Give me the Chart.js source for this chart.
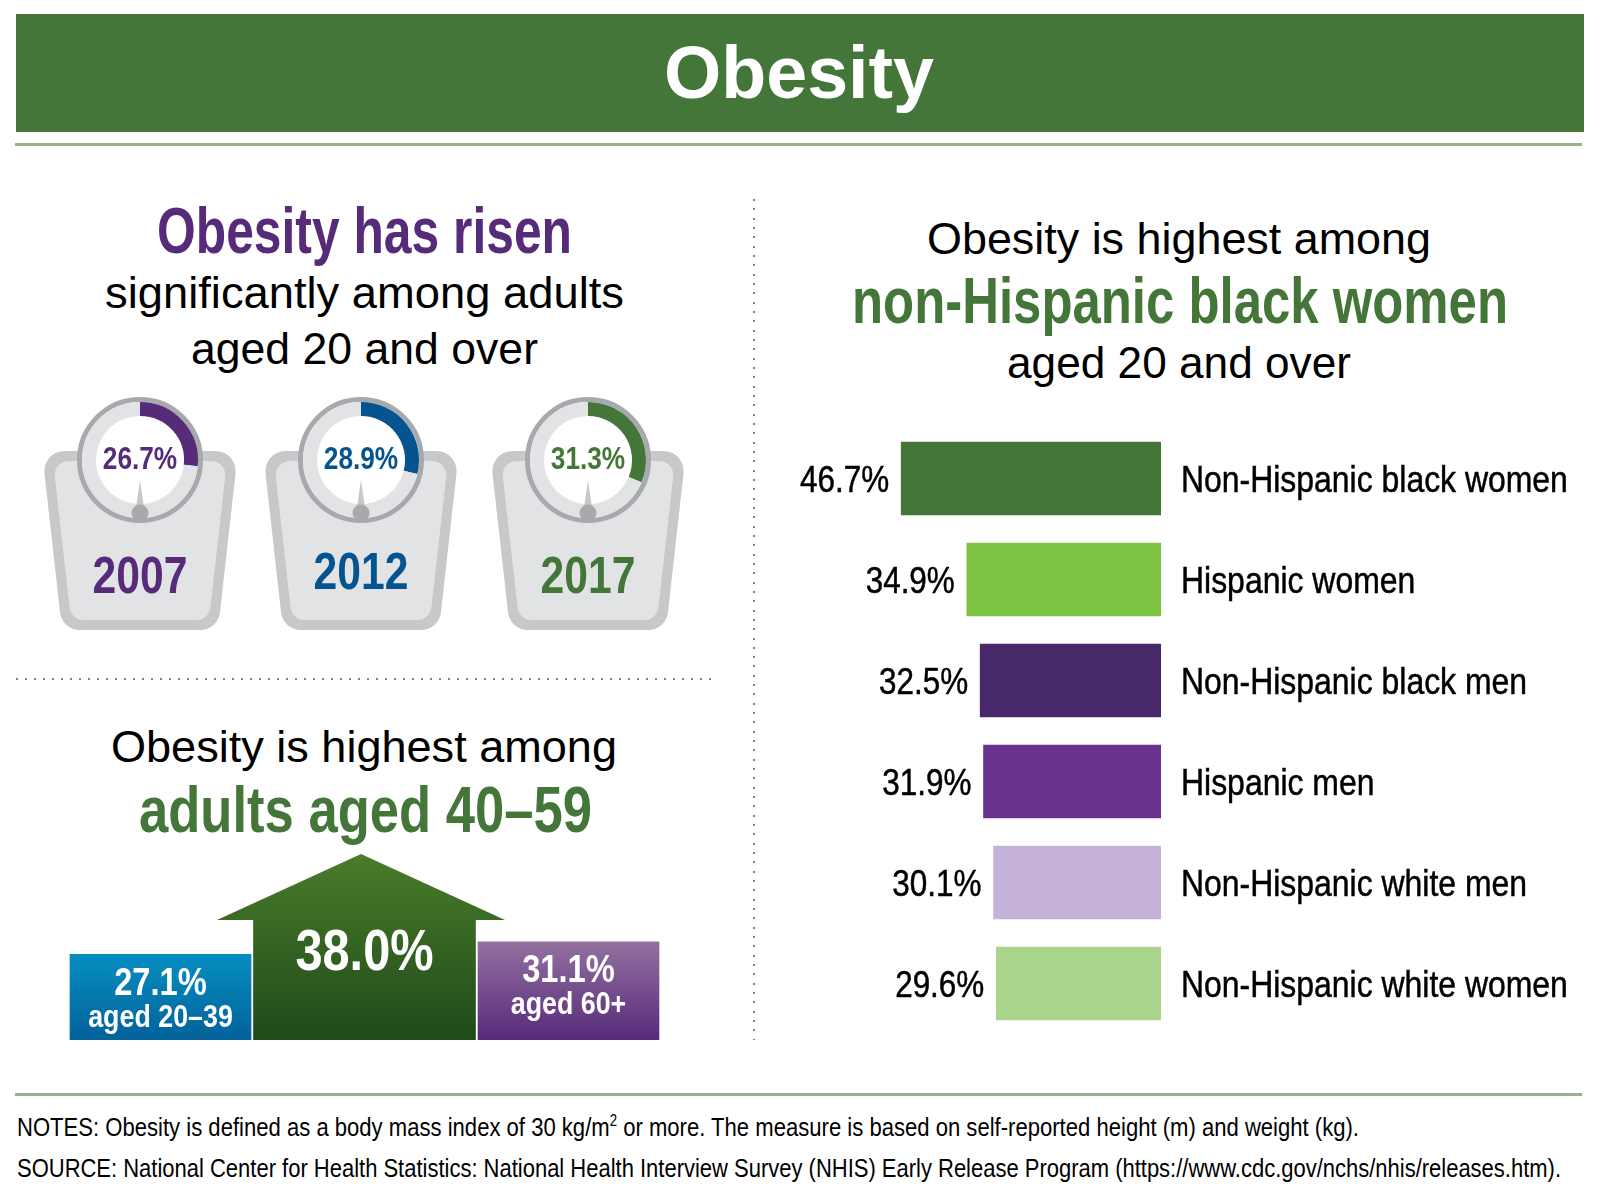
<!DOCTYPE html>
<html>
<head>
<meta charset="utf-8">
<title>Obesity</title>
<script src="https://cdn.jsdelivr.net/npm/chart.js@4"></script>
<style>
    html, body { margin: 0; background: #fff; }
    #page { position: relative; width: 1600px; height: 1200px; overflow: hidden; }
    canvas { position: absolute; }
    .box { position: absolute; }
    .t {
        position: absolute; white-space: nowrap; line-height: 0; color: #000;
        font-family: "Liberation Sans", Arial, sans-serif; transform-origin: 0 0;
    }
    .b { font-weight: bold; }
    sup { font-size: 60%; line-height: 0; }
</style>
</head>
<body>
<div id="page">
    <div class="box" style="left:16px;top:14px;width:1568px;height:118px;background:#44763a"></div>
    <div class="box" style="left:15px;top:143px;width:1567px;height:3px;background:#9bb08d"></div>
    <div class="box" style="left:15px;top:1093px;width:1567px;height:3px;background:#9bb08d"></div>
    <div class="box" style="left:753px;top:199px;width:2px;height:841px;background:repeating-linear-gradient(to bottom,#808285 0 2px,transparent 2px 9.33px)"></div>
    <div class="box" style="left:16px;top:678px;width:700px;height:2px;background:repeating-linear-gradient(to right,#808285 0 2px,transparent 2px 9px)"></div>

    <div class="t b" data-x="664" data-w="270" data-y="98" data-s="75" style="color:#fff">Obesity</div>

    <div class="t b" data-x="156.5" data-w="415" data-y="253" data-s="64" style="color:#562c7a">Obesity has risen</div>
    <div class="t" data-x="104.5" data-w="519" data-y="308" data-s="44">significantly among adults</div>
    <div class="t" data-x="191" data-w="347" data-y="364" data-s="44">aged 20 and over</div>

    <div class="t" data-x="111" data-w="506" data-y="762" data-s="44">Obesity is highest among</div>
    <div class="t b" data-x="139" data-w="453" data-y="832" data-s="64" style="color:#44763a">adults aged 40–59</div>

    <div class="t" data-x="927" data-w="504" data-y="254" data-s="44">Obesity is highest among</div>
    <div class="t b" data-x="852" data-w="656" data-y="323" data-s="64" style="color:#44763a">non-Hispanic black women</div>
    <div class="t" data-x="1007" data-w="344" data-y="378" data-s="44">aged 20 and over</div>

    <div class="t" data-x="17" data-w="1342" data-y="1130" data-s="26">NOTES: Obesity is defined as a body mass index of 30 kg/m<sup>2</sup> or more. The measure is based on self-reported height (m) and weight (kg).</div>
    <div class="t" data-x="17" data-w="1544" data-y="1177" data-s="26">SOURCE: National Center for Health Statistics: National Health Interview Survey (NHIS) Early Release Program (https://www.cdc.gov/nchs/nhis/releases.htm).</div>

    <canvas id="gauge0" width="200" height="250" style="left:40px;top:390px"></canvas>
    <canvas id="gauge1" width="200" height="250" style="left:261px;top:390px"></canvas>
    <canvas id="gauge2" width="200" height="250" style="left:488px;top:390px"></canvas>
    <canvas id="ageChart" width="650" height="200" style="left:40px;top:840px"></canvas>
    <canvas id="groupChart" width="820" height="606" style="left:780px;top:428px"></canvas>
</div>

<script>
// Share of adults with obesity by survey year
const gaugeYears = ['2007', '2012', '2017'];
const gaugeValues = [26.7, 28.9, 31.3];
const gaugeColors = ['#562c7a', '#05548f', '#44763a'];

// By age group
const ageLabels = ['aged 20–39', '', 'aged 60+'];
const ageValues = [27.1, 38.0, 31.1];

// By sex and race/ethnicity
const groupLabels = [
    'Non-Hispanic black women',
    'Hispanic women',
    'Non-Hispanic black men',
    'Hispanic men',
    'Non-Hispanic white men',
    'Non-Hispanic white women'
];
const groupValues = [46.7, 34.9, 32.5, 31.9, 30.1, 29.6];
const groupColors = ['#44763a', '#7dc242', '#47296a', '#6a348e', '#c5b2d8', '#a9d48c'];

const SANS = '"Liberation Sans", Arial, sans-serif';
const NARROW = 0.82; // no condensed face installed, so text gets squeezed

Chart.defaults.animation = false;
Chart.defaults.responsive = false;
Chart.defaults.plugins.legend.display = false;
Chart.defaults.plugins.tooltip.enabled = false;

// Place the page texts on their baselines and squeeze them to the measured width
document.querySelectorAll('.t').forEach(el => {
    const size = +el.dataset.s;
    el.style.fontSize = size + 'px';
    el.style.left = el.dataset.x + 'px';
    el.style.top = (+el.dataset.y - 0.3465 * size) + 'px';
    const w = el.getBoundingClientRect().width;
    el.style.transform = `scaleX(${+el.dataset.w / w})`;
});

function narrowText(ctx, text, x, y, align, sx, heavy) {
    ctx.save();
    ctx.translate(x, y);
    ctx.scale(sx || NARROW, 1);
    ctx.textAlign = align;
    ctx.fillText(text, 0, 0);
    if (heavy) {
        // the original labels are a medium weight
        ctx.strokeStyle = ctx.fillStyle;
        ctx.lineWidth = heavy;
        ctx.strokeText(text, 0, 0);
    }
    ctx.restore();
}

function roundedPoly(ctx, pts, r) {
    ctx.beginPath();
    const last = pts[pts.length - 1];
    ctx.moveTo((last[0] + pts[0][0]) / 2, (last[1] + pts[0][1]) / 2);
    pts.forEach((p, i) => {
        const next = pts[(i + 1) % pts.length];
        ctx.arcTo(p[0], p[1], next[0], next[1], r);
    });
    ctx.closePath();
}

// Bathroom scale drawn around each doughnut
const scaleBody = {
    id: 'scaleBody',
    beforeDatasetsDraw(chart) {
        const ctx = chart.ctx;
        const { x, y } = chart.getDatasetMeta(0).data[0];
        ctx.save();
        ctx.fillStyle = '#c7c8ca';
        roundedPoly(ctx, [[x - 98, y - 9], [x + 98, y - 9], [x + 78, y + 170], [x - 78, y + 170]], 20);
        ctx.fill();
        ctx.fillStyle = '#e1e3e5';
        roundedPoly(ctx, [[x - 87, y + 1], [x + 87, y + 1], [x + 69, y + 160], [x - 69, y + 160]], 14);
        ctx.fill();
        ctx.fillStyle = '#fff';
        ctx.strokeStyle = '#a7a9ac';
        ctx.lineWidth = 5;
        ctx.beginPath();
        ctx.arc(x, y, 60.5, 0, Math.PI * 2);
        ctx.fill();
        ctx.stroke();
        ctx.restore();
    },
    afterDatasetsDraw(chart, args, opts) {
        const ctx = chart.ctx;
        const { x, y } = chart.getDatasetMeta(0).data[0];
        ctx.save();
        ctx.fillStyle = '#c7c8ca';
        ctx.beginPath();
        ctx.moveTo(x, y + 20);
        ctx.lineTo(x + 4, y + 48);
        ctx.lineTo(x - 4, y + 48);
        ctx.closePath();
        ctx.fill();
        ctx.fillStyle = '#a7a9ac';
        ctx.beginPath();
        ctx.arc(x, y + 53, 8.5, 0, Math.PI * 2);
        ctx.fill();
        ctx.fillStyle = opts.color;
        ctx.font = 'bold 32px ' + SANS;
        narrowText(ctx, opts.value.toFixed(1) + '%', x, y + 9, 'center');
        ctx.font = 'bold 52px ' + SANS;
        narrowText(ctx, opts.year, x, y + opts.yearOffset, 'center');
        ctx.restore();
    }
};

const yearOffsets = [133, 129, 133];

gaugeYears.forEach((year, i) => {
    new Chart(document.getElementById('gauge' + i), {
        type: 'doughnut',
        data: {
            labels: [year, ''],
            datasets: [{
                data: [gaugeValues[i], 100 - gaugeValues[i]],
                backgroundColor: [gaugeColors[i], '#e1e3e5'],
                borderWidth: 0
            }]
        },
        options: {
            radius: 58,
            cutout: '75.9%',
            layout: { padding: { bottom: 110 } },
            plugins: {
                scaleBody: { color: gaugeColors[i], value: gaugeValues[i], year: year, yearOffset: yearOffsets[i] }
            }
        },
        plugins: [scaleBody]
    });
});

// Vertical gradient helper, d0/d1 are pixels above the axis baseline
function upGradient(chart, d0, d1, c0, c1) {
    const base = chart.scales.y.getPixelForValue(0);
    if (!isFinite(base)) return c1;
    const g = chart.ctx.createLinearGradient(0, base - d0, 0, base - d1);
    g.addColorStop(0, c0);
    g.addColorStop(1, c1);
    return g;
}

// Roof on the tallest bar plus the labels inside the bars
const ageDecor = {
    id: 'ageDecor',
    afterDatasetsDraw(chart) {
        const ctx = chart.ctx;
        ctx.save();
        const top = chart.getDatasetMeta(1).data[1];
        ctx.fillStyle = upGradient(chart, 187, 0, '#4a7c2a', '#1f4a1a');
        ctx.beginPath();
        ctx.moveTo(top.x - 147.5, top.y);
        ctx.lineTo(top.x - 3.5, top.y - 66);
        ctx.lineTo(top.x + 140.5, top.y);
        ctx.closePath();
        ctx.fill();

        ctx.fillStyle = '#fff';
        ageValues.forEach((v, i) => {
            const bar = chart.getDatasetMeta(i).data[i];
            if (ageLabels[i]) {
                ctx.font = 'bold 38px ' + SANS;
                narrowText(ctx, v.toFixed(1) + '%', bar.x, bar.y + 40.5, 'center', 0.86);
                ctx.font = 'bold 31px ' + SANS;
                narrowText(ctx, ageLabels[i], bar.x, bar.y + 72.5, 'center', 0.865);
            } else {
                ctx.font = 'bold 58px ' + SANS;
                narrowText(ctx, v.toFixed(1) + '%', bar.x, bar.y + 50, 'center', 0.84);
            }
        });
        ctx.restore();
    }
};

function oneBar(i, thickness, d0, c0, c1) {
    return {
        data: ageValues.map((v, j) => (j === i ? v : null)),
        barThickness: thickness,
        grouped: false,
        borderWidth: 0,
        backgroundColor: c => upGradient(c.chart, d0, 0, c0, c1)
    };
}

new Chart(document.getElementById('ageChart'), {
    type: 'bar',
    data: {
        labels: ageLabels,
        datasets: [
            oneBar(0, 181, 86, '#068ec1', '#03629a'),
            oneBar(1, 222, 187, '#4a7c2a', '#1f4a1a'),
            oneBar(2, 181, 98, '#93709f', '#572a7b')
        ]
    },
    options: {
        layout: { padding: { left: 18.5, right: 19.5 } },
        scales: {
            x: { display: false },
            y: { display: false, min: 0, max: 63.3 }
        }
    },
    plugins: [ageDecor]
});

// Percentages at the bar ends and category names right of the axis
const barLabels = {
    id: 'barLabels',
    afterDatasetsDraw(chart) {
        const ctx = chart.ctx;
        const y = chart.scales.y;
        ctx.save();
        ctx.font = '37px ' + SANS;
        ctx.fillStyle = '#000';
        ctx.textBaseline = 'alphabetic';
        chart.getDatasetMeta(0).data.forEach((bar, i) => {
            narrowText(ctx, groupValues[i].toFixed(1) + '%', bar.x - 12, bar.y + 13, 'right', 0.85, 0.5);
            narrowText(ctx, groupLabels[i], chart.chartArea.right + 20, y.getPixelForTick(i) + 13, 'left', 0.863, 0.5);
        });
        ctx.restore();
    }
};

new Chart(document.getElementById('groupChart'), {
    type: 'bar',
    data: {
        labels: groupLabels,
        datasets: [{
            data: groupValues,
            backgroundColor: groupColors,
            barThickness: 73,
            borderWidth: 0
        }]
    },
    options: {
        indexAxis: 'y',
        layout: { padding: { left: 75 } },
        scales: {
            x: { display: false, reverse: true, min: 0, max: 55 },
            y: {
                position: 'right',
                afterFit: s => { s.width = 439; },
                border: { display: false },
                grid: { display: false, drawTicks: false },
                ticks: { display: false }
            }
        }
    },
    plugins: [barLabels]
});
</script>
</body>
</html>
